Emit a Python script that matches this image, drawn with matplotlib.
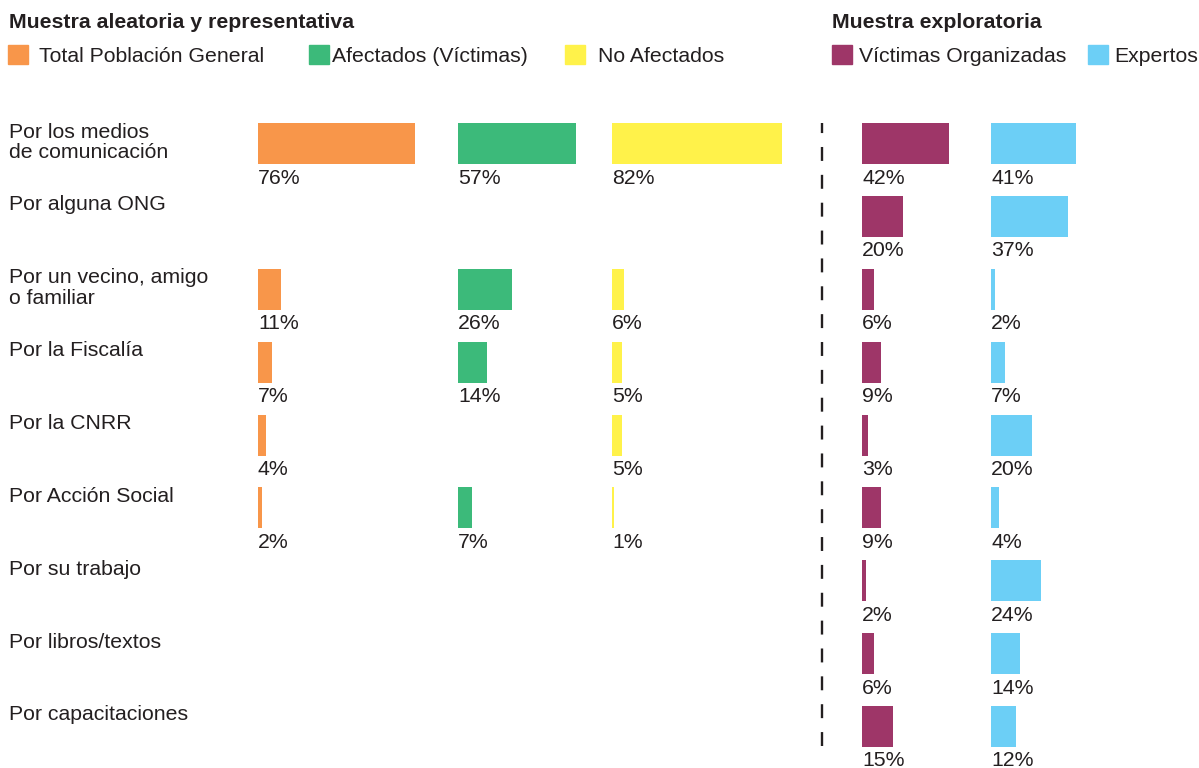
import matplotlib
matplotlib.use('Agg')
import matplotlib.pyplot as plt
from matplotlib.patches import Rectangle
from matplotlib.transforms import blended_transform_factory

plt.rcParams['font.family'] = ['Liberation Sans', 'DejaVu Sans']

categories = ["Por los medios\nde comunicación", "Por alguna ONG",
              "Por un vecino, amigo\no familiar", "Por la Fiscalía",
              "Por la CNRR", "Por Acción Social", "Por su trabajo",
              "Por libros/textos", "Por capacitaciones"]
total_general = [76, None, 11, 7, 4, 2, None, None, None]
afectados = [57, None, 26, 14, None, 7, None, None, None]
no_afectados = [82, None, 6, 5, 5, 1, None, None, None]
victimas_org = [42, 20, 6, 9, 3, 9, 2, 6, 15]
expertos = [41, 37, 2, 7, 20, 4, 24, 14, 12]

series_names = ["Total Población General", "Afectados (Víctimas)", "No Afectados",
                "Víctimas Organizadas", "Expertos"]
colors = ['#F8964A', '#3CBA7A', '#FFF24A', '#9E3668', '#6CCFF6']
TXT = '#231F20'

W, H = 1199, 768
PX_PER_PCT = 2.07
ROW_TOP = 123
ROW_STEP = 72.875
BAR_H = 41
FS = 15.3

fig = plt.figure(figsize=(W / 100, H / 100), dpi=100)
n_rows = (H - ROW_TOP) / ROW_STEP


def column_axes(left_px, width_px):
    ax = fig.add_axes([left_px / W, 0, width_px / W, (H - ROW_TOP) / H])
    ax.set_xlim(0, width_px / PX_PER_PCT)
    ax.set_ylim(n_rows, 0)
    ax.axis('off')
    return ax


col_left = [258, 458, 612, 862, 991]
col_width = [190, 150, 200, 120, 200]
all_values = [total_general, afectados, no_afectados, victimas_org, expertos]

axes = []
for left, width, vals, color in zip(col_left, col_width, all_values, colors):
    ax = column_axes(left, width)
    rows = [i for i, v in enumerate(vals) if v is not None]
    ax.barh(rows, [vals[i] for i in rows], height=BAR_H / ROW_STEP,
            align='edge', color=color)
    for i in rows:
        ax.text(0, i + 60.5 / ROW_STEP, f"{vals[i]}%", ha='left', va='baseline',
                fontsize=FS, color=TXT)
    axes.append(ax)

# category labels
lab_tr = blended_transform_factory(fig.transFigure, axes[0].transData)
for i, cat in enumerate(categories):
    axes[0].text(9 / W, i - 0.5 / ROW_STEP, cat, transform=lab_tr, ha='left',
                 va='top', fontsize=FS, color=TXT, linespacing=1.1, clip_on=False)

# dashed separator
ax_v = axes[3]
ax_v.axvline(-(862 - 822) / PX_PER_PCT, ymin=(H - 746) / (H - ROW_TOP), ymax=1,
             color=TXT, lw=1.7, linestyle=(0, (5.9, 5.9)), clip_on=False)

# headings
fig.text(9 / W, 1 - 28 / H, "Muestra aleatoria y representativa", fontsize=FS,
         fontweight='bold', color=TXT, va='baseline')
fig.text(832 / W, 1 - 28 / H, "Muestra exploratoria", fontsize=FS,
         fontweight='bold', color=TXT, va='baseline')

# legend
sq_x = [8, 309, 565, 832, 1088]
txt_x = [39, 332, 598, 859, 1114]
for sx, tx, name, color in zip(sq_x, txt_x, series_names, colors):
    fig.patches.append(Rectangle((sx / W, 1 - 64 / H), 20 / W, 19 / H,
                                 transform=fig.transFigure, color=color))
    fig.text(tx / W, 1 - 61.5 / H, name, fontsize=FS, color=TXT, va='baseline')

fig.savefig('out.png', dpi=100)
